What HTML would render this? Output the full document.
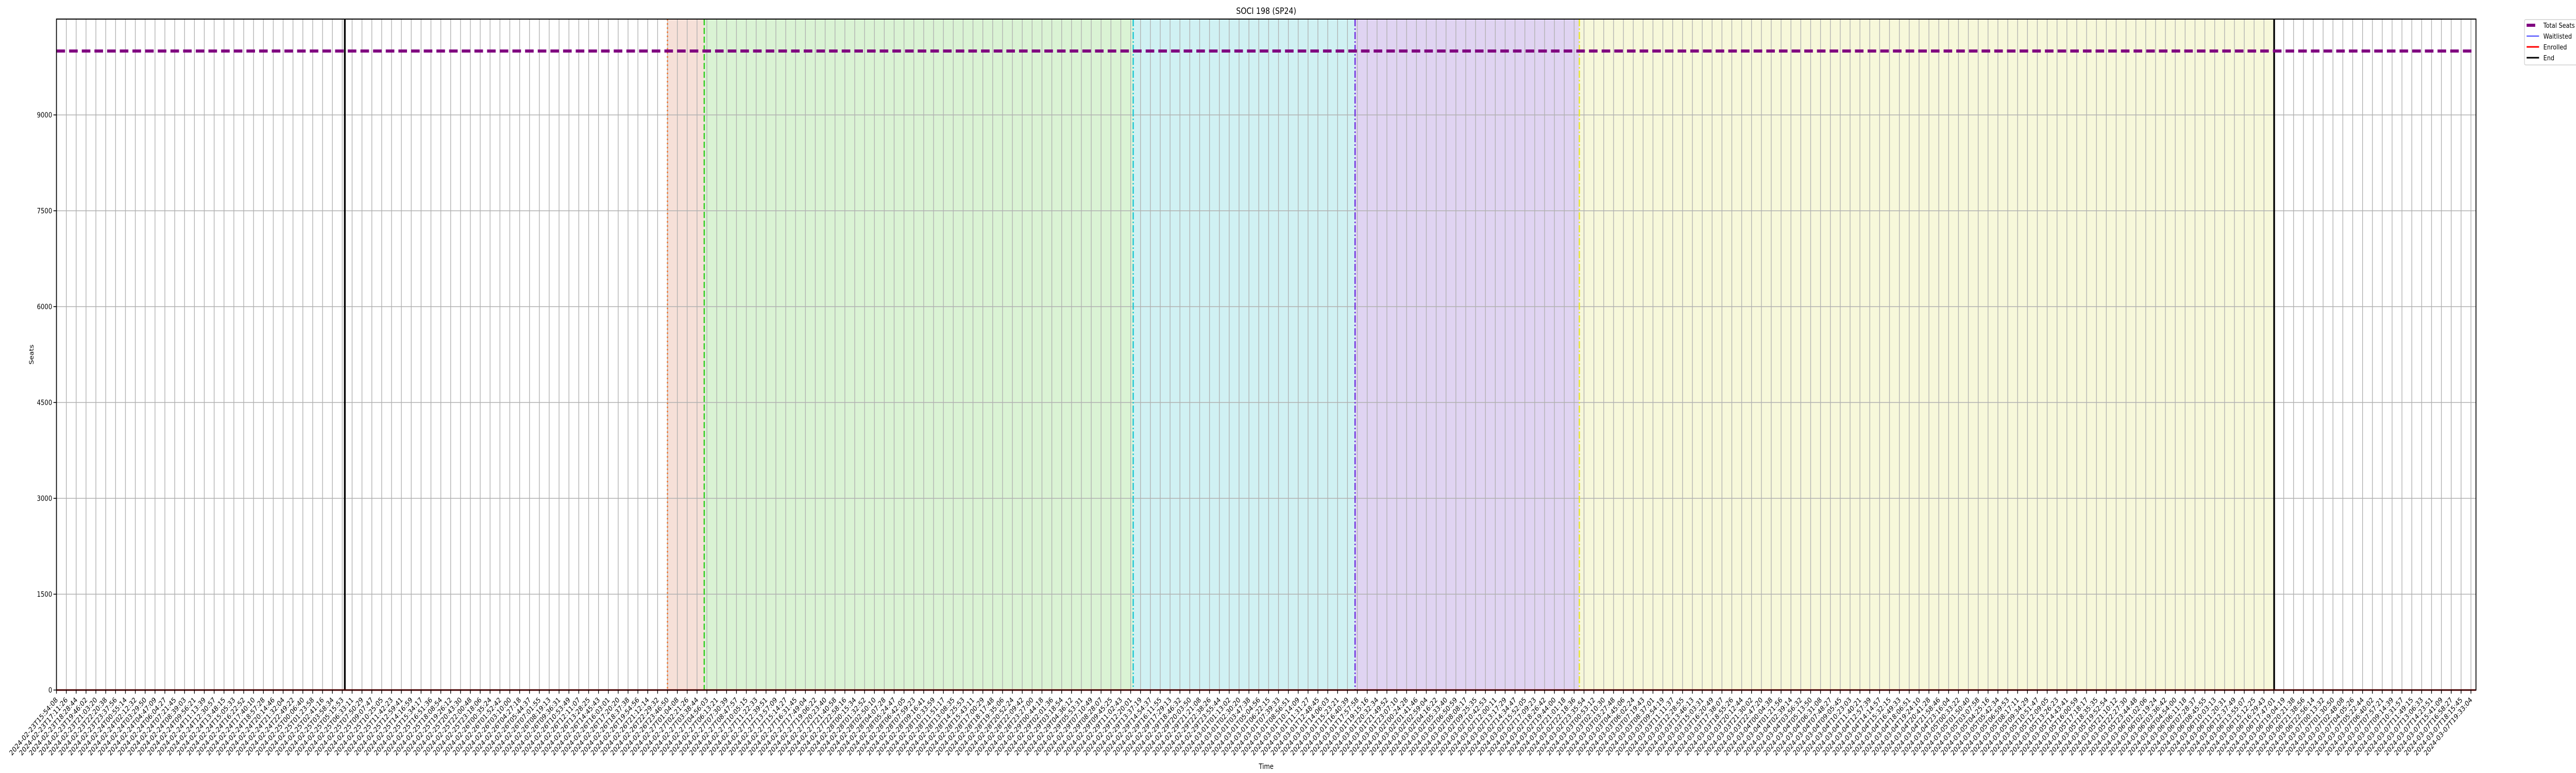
<!DOCTYPE html>
<html><head><meta charset="utf-8">
<style>
html,body{margin:0;padding:0;background:#fff;overflow:hidden;width:100%;height:100%;}
svg{display:block;width:100vw;height:100vh;font-family:"DejaVu Sans","Liberation Sans",sans-serif;}
</style></head>
<body>
<svg id="chart" viewBox="0 0 6000 1500" preserveAspectRatio="none" xmlns="http://www.w3.org/2000/svg"></svg>
<script>
// ---- data ----
const startLabel = "2024-02-23T15:54:08";
const endLabel = "2024-03-07T19:33:04";
const tickCount = 246;
const yTicks = [0, 1500, 3000, 4500, 6000, 7500, 9000];
const totalSeats = [10000];
const enrolled = [0];
const waitlisted = [0];
const phaseNames = ["phase-1", "phase-2", "phase-3", "phase-4", "phase-5"];
const phaseStarts = [62.0, 65.73, 109.26, 131.77, 154.53];
const phaseEnds = [65.73, 109.26, 131.77, 154.53, 225.03];
const startMarker = [29.26];
const endMarker = [225.03];
const phaseFill = ["#f6e0d8", "#daf3d4", "#d0f1f3", "#e0d4f2", "#f7f8da"];
const phaseLine = ["#ee7733", "#33cc22", "#22c8d4", "#7030e0", "#e6e630"];
const phaseDash = ["3,5", "12,5", "14,4,3,4", "14,4,3,4", "14,4,3,4"];

// ---- layout ----
const L = 131.5, R = 5767, T = 37, B = 1339;
const yMax = 10500;
const step = (5755.3 - L) / (tickCount - 1);
const xs = i => L + i * step;
const ys = v => B - v / yMax * (B - T);
const NS = "http://www.w3.org/2000/svg";
const svg = document.getElementById('chart');
function mk(tag, attrs, parent) {
  const e = document.createElementNS(NS, tag);
  for (const k in attrs) e.setAttribute(k, attrs[k]);
  (parent || svg).appendChild(e);
  return e;
}
const t0 = Date.parse(startLabel + "Z"), t1 = Date.parse(endLabel + "Z");
const xLabels = [];
for (let i = 0; i < tickCount; i++) {
  const t = new Date(t0 + (t1 - t0) * i / (tickCount - 1));
  xLabels.push(t.toISOString().slice(0, 19));
}
xLabels[0] = startLabel; xLabels[tickCount - 1] = endLabel;

phaseStarts.forEach((s, i) => {
  const r = mk('rect', {x: xs(s), y: T, width: xs(phaseEnds[i]) - xs(s), height: B - T, fill: phaseFill[i]});
  
  
});
const grid = mk('g', {stroke: '#b0b0b0', 'stroke-width': 1.6});


for (let i = 0; i < tickCount; i++) mk('line', {x1: xs(i), x2: xs(i), y1: T, y2: B}, grid);
yTicks.forEach(v => mk('line', {x1: L, x2: R, y1: ys(v), y2: ys(v)}, grid));
phaseStarts.forEach((s, i) => {
  const l = mk('line', {x1: xs(s), x2: xs(s), y1: T, y2: B, stroke: phaseLine[i], 'stroke-width': 3, 'stroke-dasharray': phaseDash[i]});
  
  
});
[startMarker[0], endMarker[0]].forEach((m, i) => {
  const l = mk('line', {x1: xs(m), x2: xs(m), y1: T, y2: B, stroke: '#000', 'stroke-width': 4});
  
  
});
const ts = mk('line', {x1: L, x2: R, y1: ys(totalSeats[0]), y2: ys(totalSeats[0]), stroke: '#800080', 'stroke-width': 6, 'stroke-dasharray': '20,9.5'});


const wl = mk('line', {x1: L, x2: R, y1: ys(waitlisted[0]), y2: ys(waitlisted[0]), stroke: '#0000ff', 'stroke-width': 2});


const en = mk('line', {x1: L, x2: R, y1: ys(enrolled[0]), y2: ys(enrolled[0]), stroke: '#ff0000', 'stroke-width': 3});


const fr = mk('rect', {x: L, y: T, width: R - L, height: B - T, fill: 'none', stroke: '#000', 'stroke-width': 2});


const xt = mk('g', {'font-size': 14, fill: '#000'});


xLabels.forEach((lab, i) => {
  const x = xs(i);
  mk('line', {x1: x, x2: x, y1: B, y2: B + 7, stroke: '#000', 'stroke-width': 1.6}, xt);
  const t = mk('text', {x: x + 4, y: B + 20, 'text-anchor': 'end', transform: `rotate(-45 ${x + 4} ${B + 20})`}, xt);
  t.textContent = lab;
});
const yt = mk('g', {'font-size': 14, fill: '#000'});


yTicks.forEach(v => {
  mk('line', {x1: L - 7, x2: L, y1: ys(v), y2: ys(v), stroke: '#000', 'stroke-width': 1.6}, yt);
  const t = mk('text', {x: L - 10, y: ys(v) + 5, 'text-anchor': 'end'}, yt);
  t.textContent = v;
});
const title = mk('text', {x: (L + R) / 2, y: 27, 'text-anchor': 'middle', 'font-size': 17});
title.textContent = 'SOCI 198 (SP24)';


const xl = mk('text', {x: (L + R) / 2, y: 1492, 'text-anchor': 'middle', 'font-size': 14});
xl.textContent = 'Time';


const yl = mk('text', {x: 78, y: (T + B) / 2, 'text-anchor': 'middle', 'font-size': 14, transform: `rotate(-90 78 ${(T + B) / 2})`});
yl.textContent = 'Seats';


const lg = mk('g', {});


mk('rect', {x: 5880, y: 38, width: 140, height: 88, rx: 3, fill: '#fff', stroke: '#d0d0d0', 'stroke-width': 1.5}, lg);
const items = [['Total Seats', '#800080', 6], ['Waitlisted', '#0000ff', 1.5], ['Enrolled', '#ff0000', 3], ['End', '#000', 3]];
items.forEach((it, i) => {
  const y = 49 + i * 21;
  if (i === 0) mk('line', {x1: 5885, x2: 5905, y1: y, y2: y, stroke: it[1], 'stroke-width': it[2]}, lg);
  else mk('line', {x1: 5885, x2: 5914, y1: y, y2: y, stroke: it[1], 'stroke-width': it[2]}, lg);
  const t = mk('text', {x: 5924, y: y + 5, 'font-size': 13.5}, lg);
  t.textContent = it[0];
  
  
});
</script>
</body></html>
